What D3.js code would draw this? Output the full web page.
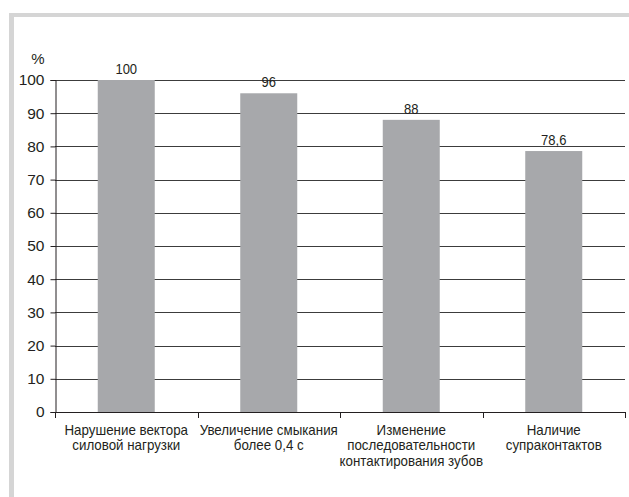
<!DOCTYPE html>
<html>
<head>
<meta charset="utf-8">
<script src="https://cdn.jsdelivr.net/npm/d3@7"></script>
<style>
  html, body { margin: 0; padding: 0; background: #fff; }
  svg { display: block; }
  text { font-family: "Liberation Sans", Arial, Helvetica, sans-serif; fill: #231f20; }
</style>
</head>
<body>
<svg id="chart" width="629" height="497"></svg>
<script>
const categories = [
  ["Нарушение вектора", "силовой нагрузки"],
  ["Увеличение смыкания", "более 0,4 с"],
  ["Изменение", "последовательности", "контактирования зубов"],
  ["Наличие", "супраконтактов"]
];
const values = [100, 96, 88, 78.6];
const valueLabels = ["100", "96", "88", "78,6"];
const yTicks = [0, 10, 20, 30, 40, 50, 60, 70, 80, 90, 100];
const yUnit = "%";

(function () {
const svg = d3.select("#chart");
const W = 629, H = 497;

// light gray frame on top and left
svg.append("rect").attr("x", 9).attr("y", 13).attr("width", W - 9).attr("height", 4).attr("fill", "#d5d5d5");
svg.append("rect").attr("x", 9).attr("y", 13).attr("width", 5).attr("height", H - 13).attr("fill", "#d5d5d5");

const mLeft = 55, mRight = 625, mTop = 80, mBottom = 412;
const x = d3.scaleBand().domain(d3.range(categories.length)).range([mLeft, mRight]).paddingInner(0.6).paddingOuter(0.3);
const xb = d3.scaleBand().domain(d3.range(categories.length)).range([mLeft, mRight]);
const y = d3.scaleLinear().domain([0, 100]).range([mBottom, mTop]);

// gridlines
svg.append("g").selectAll("line").data(yTicks.filter(d => d > 0)).join("line")
  .attr("x1", mLeft).attr("x2", mRight)
  .attr("y1", d => Math.round(y(d)) + 0.5).attr("y2", d => Math.round(y(d)) + 0.5)
  .attr("stroke", "#3c3c3c").attr("stroke-width", 1.1);

// bars
svg.append("g").selectAll("rect").data(values).join("rect")
  .attr("x", (d, i) => x(i))
  .attr("width", x.bandwidth())
  .attr("y", d => y(d))
  .attr("height", d => y(0) - y(d))
  .attr("fill", "#a7a8ab");

// value labels
svg.append("g").selectAll("text").data(values).join("text")
  .attr("transform", (d, i) => `translate(${x(i) + x.bandwidth() / 2},${y(d) - 6}) scale(0.93,1)`)
  .attr("text-anchor", "middle")
  .attr("font-size", 14)
  .text((d, i) => valueLabels[i]);

// y axis
const yAxis = d3.axisLeft(y).tickValues(yTicks).tickSize(5).tickPadding(6).tickFormat(d3.format("d"));
const gy = svg.append("g").attr("transform", `translate(${mLeft + 0.5},0)`).call(yAxis);
gy.select(".domain").attr("stroke", "#231f20");
gy.selectAll(".tick line").attr("stroke", "#231f20");
gy.selectAll(".tick text").attr("font-size", 15.5).attr("fill", "#231f20")
  .attr("font-family", "'Liberation Sans', Arial, sans-serif");

// x axis
svg.append("line").attr("x1", mLeft).attr("x2", mRight)
  .attr("y1", mBottom + 0.5).attr("y2", mBottom + 0.5).attr("stroke", "#231f20");
const bounds = d3.range(categories.length + 1).map(i => i < categories.length ? xb(i) : mRight);
svg.append("g").selectAll("line").data(bounds).join("line")
  .attr("x1", d => Math.round(d) + 0.5).attr("x2", d => Math.round(d) + 0.5)
  .attr("y1", mBottom).attr("y2", mBottom + 6)
  .attr("stroke", "#231f20");

// category labels
const cat = svg.append("g").selectAll("text").data(categories).join("text")
  .attr("transform", (d, i) => `translate(${xb(i) + xb.bandwidth() / 2},0) scale(0.92,1)`)
  .attr("text-anchor", "middle")
  .attr("font-size", 14.5);
cat.each(function(lines) {
  const t = d3.select(this);
  lines.forEach((ln, k) => {
    t.append("tspan")
      .attr("x", 0)
      .attr("y", mBottom + 23 + k * 15.5)
      .text(ln);
  });
});

// unit label
svg.append("text").attr("x", 38).attr("y", 64).attr("text-anchor", "middle")
  .attr("font-size", 15).text(yUnit);
})();
</script>
</body>
</html>
